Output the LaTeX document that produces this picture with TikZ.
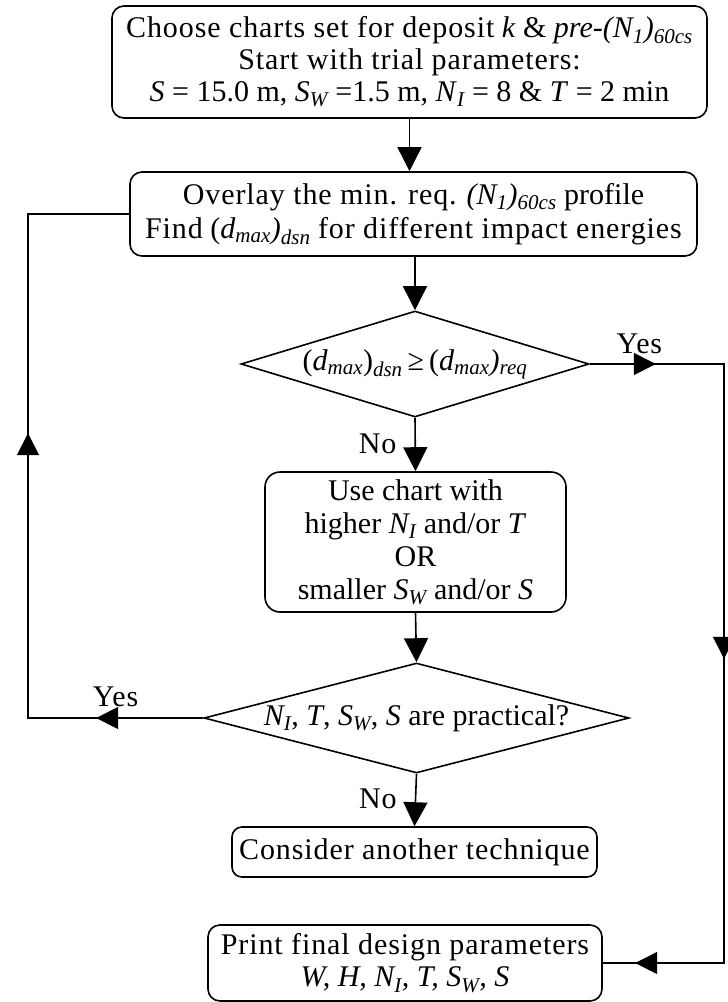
\documentclass[tikz,border=0pt]{standalone}
\usepackage{fontspec}
\setmainfont{Liberation Serif}
\newfontfamily\widefont{Liberation Serif}[LetterSpace=3]
\usetikzlibrary{positioning,shapes.geometric,arrows.meta,decorations.markings}

\newcommand{\sub}[1]{\textsubscript{\itshape #1}}
\newcommand{\bodyfont}{\fontsize{30}{32}\selectfont}

\tikzset{
  box/.style={draw,rounded corners=12pt,line width=1.6pt,align=center,inner sep=0pt},
  decision/.style={draw,diamond,line width=1.6pt,inner sep=0pt},
  flow/.style={line width=1.6pt,-{Triangle[length=24pt,width=24pt]}},
  route/.style={line width=1.6pt,postaction={decorate}},
  tipsat/.style 2 args={decoration={markings,
      mark=at position #1 with {\arrow{Triangle[length=22pt,width=22pt]}},
      mark=at position #2 with {\arrow{Triangle[length=22pt,width=22pt]}}}},
  tipsat3/.style n args={3}{decoration={markings,
      mark=at position #1 with {\arrow{Triangle[length=22pt,width=22pt]}},
      mark=at position #2 with {\arrow{Triangle[length=22pt,width=22pt]}},
      mark=at position #3 with {\arrow{Triangle[length=22pt,width=22pt]}}}},
  lbl/.style={font=\bodyfont\widefont,inner sep=0pt}
}

\begin{document}
\begin{tikzpicture}[x=1pt,y=-1pt,font=\bodyfont]
\useasboundingbox (0,0) rectangle (728,1002);

% boxes and decisions
\node[box,minimum width=595pt,minimum height=112pt] (start) at (409.5,62) {%
  {\widefont Choose charts set for deposit} \textit{k} \& \textit{pre-(N\sub{1})\sub{60cs}}\\
  {\widefont Start with trial parameters:}\\
  \textit{S} = 15.0 m, \textit{S}\sub{W} =1.5 m, \textit{N}\sub{I} = 8 \& \textit{T} = 2 min};
\node[box,minimum width=567pt,minimum height=84pt] (overlay) at (413.5,214) {%
  {\widefont Overlay the min. req.} \textit{(N\sub{1})\sub{60cs}} profile\\[2pt]
  {\widefont Find} (\textit{d\sub{max})\sub{dsn}} {\widefont for different impact energies}};
\node[decision,minimum width=348pt,minimum height=106pt,
  label={center:(\textit{d\sub{max}})\sub{dsn}\,≥\,(\textit{d\sub{max})\sub{req}}}]
  (check) at (415,364) {};
\node[box,rounded corners=15pt,minimum width=301pt,minimum height=140pt] (chart) at (415.5,542) {%
  Use chart with\\[1pt]
  higher \textit{N\sub{I}} and/or \textit{T}\\[1pt]
  OR\\[1pt]
  smaller \textit{S\sub{W}} and/or \textit{S}};
\node[decision,minimum width=425pt,minimum height=110pt,
  label={center:\textit{N\sub{I}}, \textit{T}, \textit{S\sub{W}}, \textit{S} are practical?}]
  (practical) at (416.5,718) {};
\node[box,rounded corners=10pt,minimum width=365pt,minimum height=50pt] (other) at (414.5,852)
  {\widefont Consider another technique};
\node[box,minimum width=394pt,minimum height=76pt] (final) at (405,963) {%
  {\widefont Print final design parameters}\\
  \textit{W, H, N\sub{I}, T, S\sub{W}, S}};

% side routes
\coordinate (lft) at (28,0);
\coordinate (rgt) at (724,0);

% main line
\draw[flow] (start.south) -- (start.south |- overlay.north);
\draw[flow] (overlay.south -| check.north) -- (check.north);
\draw[flow] (check.south) -- node[lbl,left=18pt,pos=0.48] {No} (chart.north);
\draw[flow] (chart.south) -- (practical.north);
\draw[flow] (practical.south) -- node[lbl,left=18pt,pos=0.48] {No} (other.north);

% loops
\draw[route,tipsat={107pt}{460pt}] (practical.west) -- node[lbl,above=10pt,pos=0.5] {Yes}
  (practical.west -| lft) -- (overlay.west -| lft) -- (overlay.west);
\draw[route,line width=1.3pt,tipsat3={66pt}{429pt}{822pt}] (check.east) -- node[lbl,above=10pt,pos=0.37] {Yes}
  (check.east -| rgt) -- (final.east -| rgt) -- (final.east);
\end{tikzpicture}
\end{document}
